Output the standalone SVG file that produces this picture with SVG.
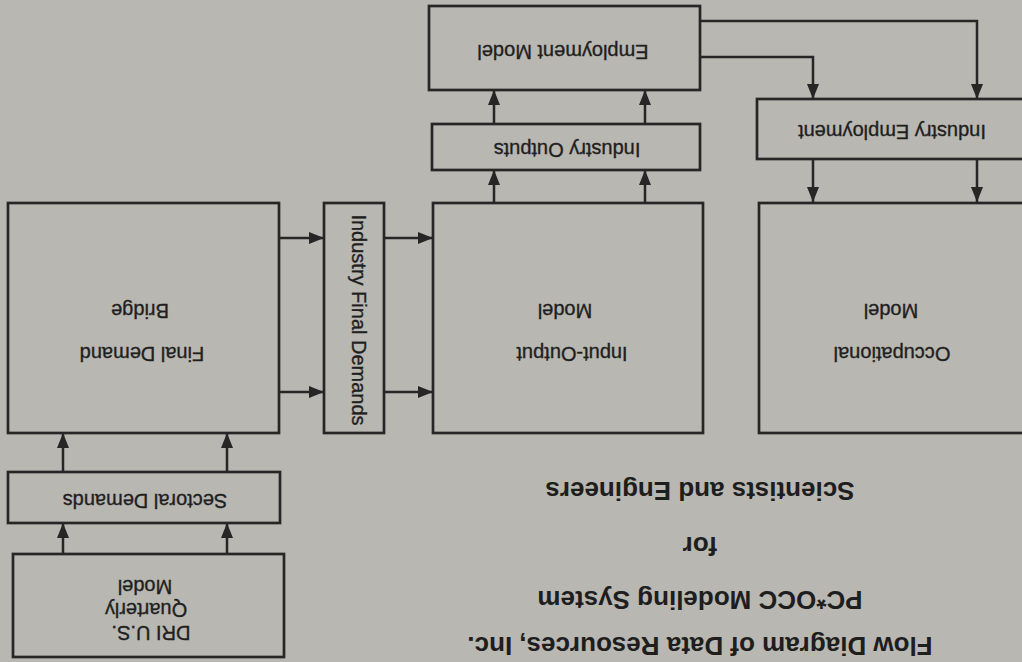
<svg xmlns="http://www.w3.org/2000/svg" width="1022" height="662" viewBox="0 0 1022 662">
<style>
.box{fill:none;stroke:#262626;stroke-width:2.7}
.lbl{font-family:"Liberation Sans",Arial,sans-serif;font-size:20px;fill:#1f1f1f;stroke:#1f1f1f;stroke-width:0.35;text-anchor:middle}
.ttl{font-family:"Liberation Sans",Arial,sans-serif;font-size:26px;font-weight:bold;fill:#1e1e1e;text-anchor:middle}
.c{fill:none;stroke:#262626;stroke-width:2.5;marker-end:url(#ah)}
</style>
<defs>
<marker id="ah" markerUnits="userSpaceOnUse" markerWidth="15" markerHeight="12" refX="15" refY="6" orient="auto"><path d="M0,0 L15,6 L0,12 Z" fill="#262626"/></marker>
</defs>
<rect width="1022" height="662" fill="#b9b7b1"/>
<g id="connectors">
<path class="c" d="M63,554 V523"/>
<path class="c" d="M227,554 V523"/>
<path class="c" d="M63,472 V433"/>
<path class="c" d="M227,472 V433"/>
<path class="c" d="M279,238 H324"/>
<path class="c" d="M279,392 H324"/>
<path class="c" d="M384,238 H433"/>
<path class="c" d="M384,392 H433"/>
<path class="c" d="M494,203 V170"/>
<path class="c" d="M645,203 V170"/>
<path class="c" d="M494,124 V90"/>
<path class="c" d="M645,124 V90"/>
<path class="c" d="M700,21 H977 V99"/>
<path class="c" d="M700,57 H813 V99"/>
<path class="c" d="M813,159 V202"/>
<path class="c" d="M977,159 V202"/>
</g>
<g id="employment-model">
<rect class="box" x="429" y="6" width="271" height="84"/>
<text class="lbl" transform="translate(563,45) rotate(180)">Employment Model</text>
</g>
<g id="industry-outputs">
<rect class="box" x="432" y="124" width="268" height="46"/>
<text class="lbl" transform="translate(567,143) rotate(180)">Industry Outputs</text>
</g>
<g id="industry-employment">
<rect class="box" x="757" y="99" width="270" height="60"/>
<text class="lbl" transform="translate(892,125) rotate(180)">Industry Employment</text>
</g>
<g id="final-demand-bridge">
<rect class="box" x="8" y="203" width="271" height="230"/>
<text class="lbl" transform="translate(142,347) rotate(180)">Final Demand</text>
<text class="lbl" transform="translate(140,304) rotate(180)">Bridge</text>
</g>
<g id="industry-final-demands">
<rect class="box" x="324" y="203" width="60" height="230"/>
<text class="lbl" transform="translate(352,320) rotate(90)">Industry Final Demands</text>
</g>
<g id="input-output-model">
<rect class="box" x="433" y="203" width="270" height="230"/>
<text class="lbl" transform="translate(572,347) rotate(180)">Input-Output</text>
<text class="lbl" transform="translate(565,304) rotate(180)">Model</text>
</g>
<g id="occupational-model">
<rect class="box" x="759" y="203" width="268" height="230"/>
<text class="lbl" transform="translate(892,347) rotate(180)">Occupational</text>
<text class="lbl" transform="translate(891,304) rotate(180)">Model</text>
</g>
<g id="sectoral-demands">
<rect class="box" x="8" y="472" width="272" height="51"/>
<text class="lbl" transform="translate(145,494) rotate(180)">Sectoral Demands</text>
</g>
<g id="dri-model">
<rect class="box" x="13" y="554" width="271" height="103"/>
<text class="lbl" transform="translate(151,626) rotate(180)">DRI U.S.</text>
<text class="lbl" transform="translate(146,603) rotate(180)">Quarterly</text>
<text class="lbl" transform="translate(145,580) rotate(180)">Model</text>
</g>
<g id="title">
<text class="ttl" transform="translate(700,637) rotate(180)">Flow Diagram of Data Resources, Inc.</text>
<text class="ttl" transform="translate(700,591) rotate(180)">PC*OCC Modeling System</text>
<text class="ttl" transform="translate(700,537) rotate(180)">for</text>
<text class="ttl" transform="translate(700,482) rotate(180)">Scientists and Engineers</text>
</g>
</svg>
